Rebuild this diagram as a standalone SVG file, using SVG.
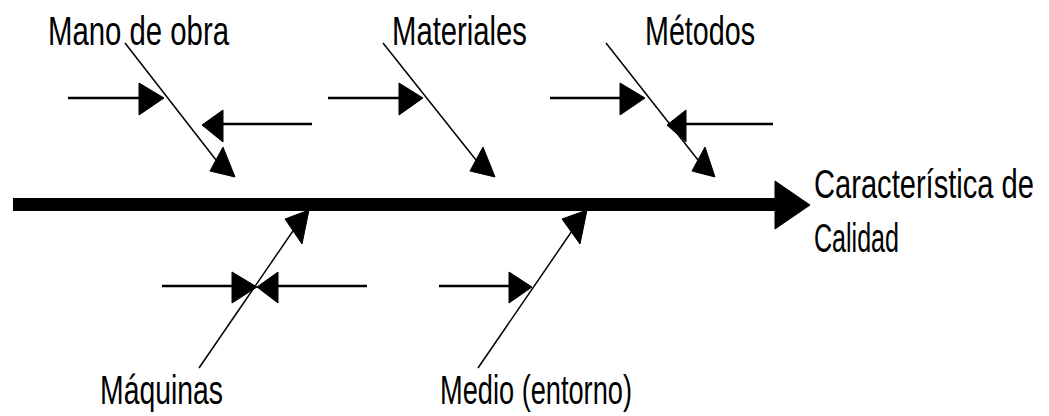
<svg xmlns="http://www.w3.org/2000/svg" width="1049" height="416" viewBox="0 0 1049 416">
<style>
  .lbl { font-family: "Liberation Sans", Arial, sans-serif; font-size: 41px; fill: #000; }
  .arr { stroke: #000; stroke-width: 2.5; fill: none; }
  .br { stroke: #000; stroke-width: 1.5; fill: none; }
  .head { fill: #000; stroke: #000; stroke-width: 1; stroke-linejoin: miter; }
</style>
<rect width="1049" height="416" fill="#fff"/>
<g id="spine">
  <rect x="13" y="198" width="763" height="13" fill="#000"/>
  <polygon class="head" points="775,181 775,229 810,205"/>
</g>
<g id="node-mano-de-obra">
  <text class="lbl" x="48" y="45" textLength="181" lengthAdjust="spacingAndGlyphs">Mano de obra</text>
</g>
<g id="node-materiales">
  <text class="lbl" x="392" y="45" textLength="135" lengthAdjust="spacingAndGlyphs">Materiales</text>
</g>
<g id="node-metodos">
  <text class="lbl" x="645" y="45" textLength="110" lengthAdjust="spacingAndGlyphs">Métodos</text>
</g>
<g id="node-maquinas">
  <text class="lbl" x="100" y="404" textLength="123" lengthAdjust="spacingAndGlyphs">Máquinas</text>
</g>
<g id="node-medio">
  <text class="lbl" x="440" y="404" textLength="192" lengthAdjust="spacingAndGlyphs">Medio (entorno)</text>
</g>
<g id="node-caracteristica">
  <text class="lbl" transform="translate(814,198) scale(0.71,1)" x="0" y="0">Característica de</text>
  <text class="lbl" x="814" y="252" textLength="85" lengthAdjust="spacingAndGlyphs">Calidad</text>
</g>
<g id="connectors">
  <line class="br" x1="125" y1="43" x2="216" y2="160"/>
  <polygon class="head" points="223,147 210,171 235,177"/>
  <line class="br" x1="383" y1="43" x2="476" y2="160"/>
  <polygon class="head" points="483,147 470,171 495,177"/>
  <line class="br" x1="606" y1="43" x2="698" y2="160"/>
  <polygon class="head" points="705,147 692,171 715,177"/>
  <line class="br" x1="199" y1="368" x2="295" y2="228"/>
  <polygon class="head" points="285,219 309,210 302,244"/>
  <line class="br" x1="478" y1="368" x2="574" y2="228"/>
  <polygon class="head" points="562,219 587,210 580,244"/>
  <line class="arr" x1="68" y1="98" x2="140" y2="98"/>
  <polygon class="head" points="139,83 139,115 164,98"/>
  <line class="arr" x1="312" y1="124" x2="222" y2="124"/>
  <polygon class="head" points="223,110 223,142 202,125"/>
  <line class="arr" x1="328" y1="98" x2="400" y2="98"/>
  <polygon class="head" points="399,83 399,115 423,98"/>
  <line class="arr" x1="550" y1="98" x2="621" y2="98"/>
  <polygon class="head" points="620,83 620,115 645,98"/>
  <line class="arr" x1="773" y1="124" x2="685" y2="124"/>
  <polygon class="head" points="686,110 686,142 667,125"/>
  <line class="arr" x1="162" y1="286" x2="233" y2="286"/>
  <polygon class="head" points="232,272 232,303 257,287"/>
  <line class="arr" x1="367" y1="286" x2="277" y2="286"/>
  <polygon class="head" points="278,272 278,303 257,287"/>
  <line class="arr" x1="439" y1="286" x2="510" y2="286"/>
  <polygon class="head" points="509,272 509,303 532,287"/>
</g>
</svg>
